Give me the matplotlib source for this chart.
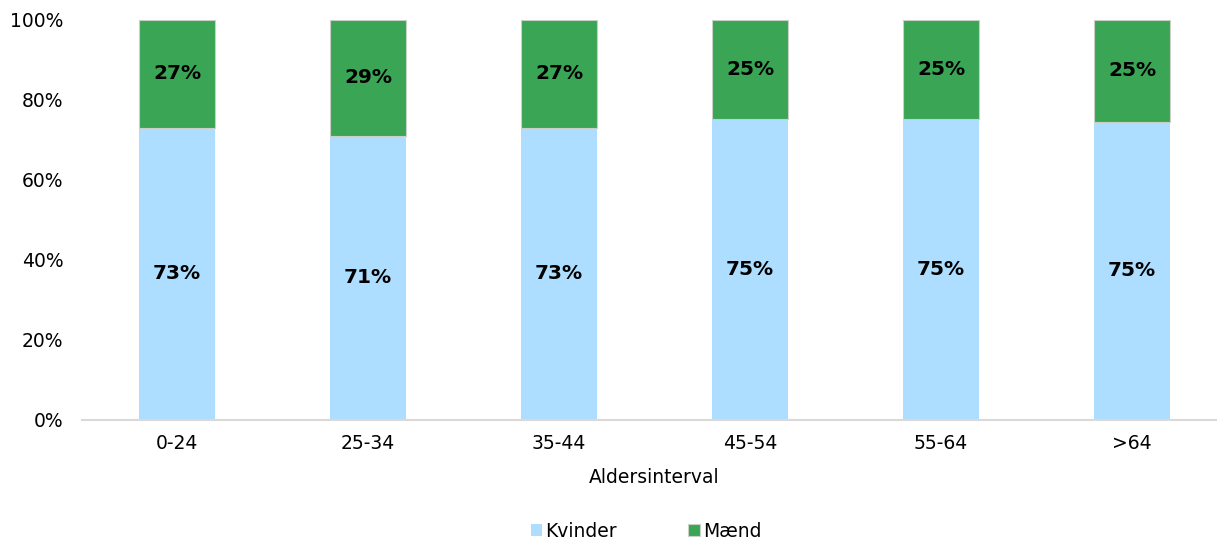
import matplotlib.pyplot as plt
import numpy as np

# Data
categories = ["0-24", "25-34", "35-44", "45-54", "55-64", ">64"]
kvinder = [73.0, 71.0, 73.0, 75.3, 75.2, 74.6]
maend = [100 - v for v in kvinder]

blue = "#ADDEFF"
green = "#3AA655"

plt.rcParams["font.family"] = ["DejaVu Sans"]

fig = plt.figure(figsize=(12.17, 5.41), dpi=100)
ax = fig.add_axes([0.067, 0.2237, 0.9417, 0.7394])

x = np.arange(len(categories))
width = 0.40
b1 = ax.bar(x, kvinder, width, color=blue, label="Kvinder", zorder=2)
b2 = ax.bar(x, maend, width, bottom=kvinder, color=green, edgecolor="#C8D0C8",
            linewidth=0.8, label="Mænd", zorder=2)

for i in range(len(categories)):
    ax.text(x[i], kvinder[i] / 2, f"{round(kvinder[i])}%", ha="center", va="center",
            fontsize=14.5, fontweight="bold", color="black")
    ax.text(x[i], kvinder[i] + maend[i] / 2, f"{round(maend[i])}%", ha="center", va="center",
            fontsize=14.5, fontweight="bold", color="black")

ax.set_xlim(-0.5, 5.5)
ax.set_ylim(0, 100)
ax.set_yticks(np.arange(0, 101, 20))
ax.set_yticklabels([f"{v}%" for v in range(0, 101, 20)], fontsize=13.5)
ax.set_xticks(x)
ax.set_xticklabels(categories, fontsize=13.5)
ax.tick_params(axis="both", length=0, pad=10)
ax.tick_params(axis="y", pad=13)

for s in ["top", "right", "left"]:
    ax.spines[s].set_visible(False)
ax.spines["bottom"].set_color("#D9D9D9")
ax.spines["bottom"].set_linewidth(1.5)

ax.set_xlabel("Aldersinterval", fontsize=13.5, labelpad=11)

fig.legend(handles=[b1, b2], labels=["Kvinder", "Mænd"], loc="center",
           bbox_to_anchor=(0.531, 0.018), ncol=2, frameon=False, fontsize=13.5,
           handlelength=0.6, handleheight=0.6, handletextpad=0.2, columnspacing=3.8)

fig.savefig("out.png", dpi=100)
